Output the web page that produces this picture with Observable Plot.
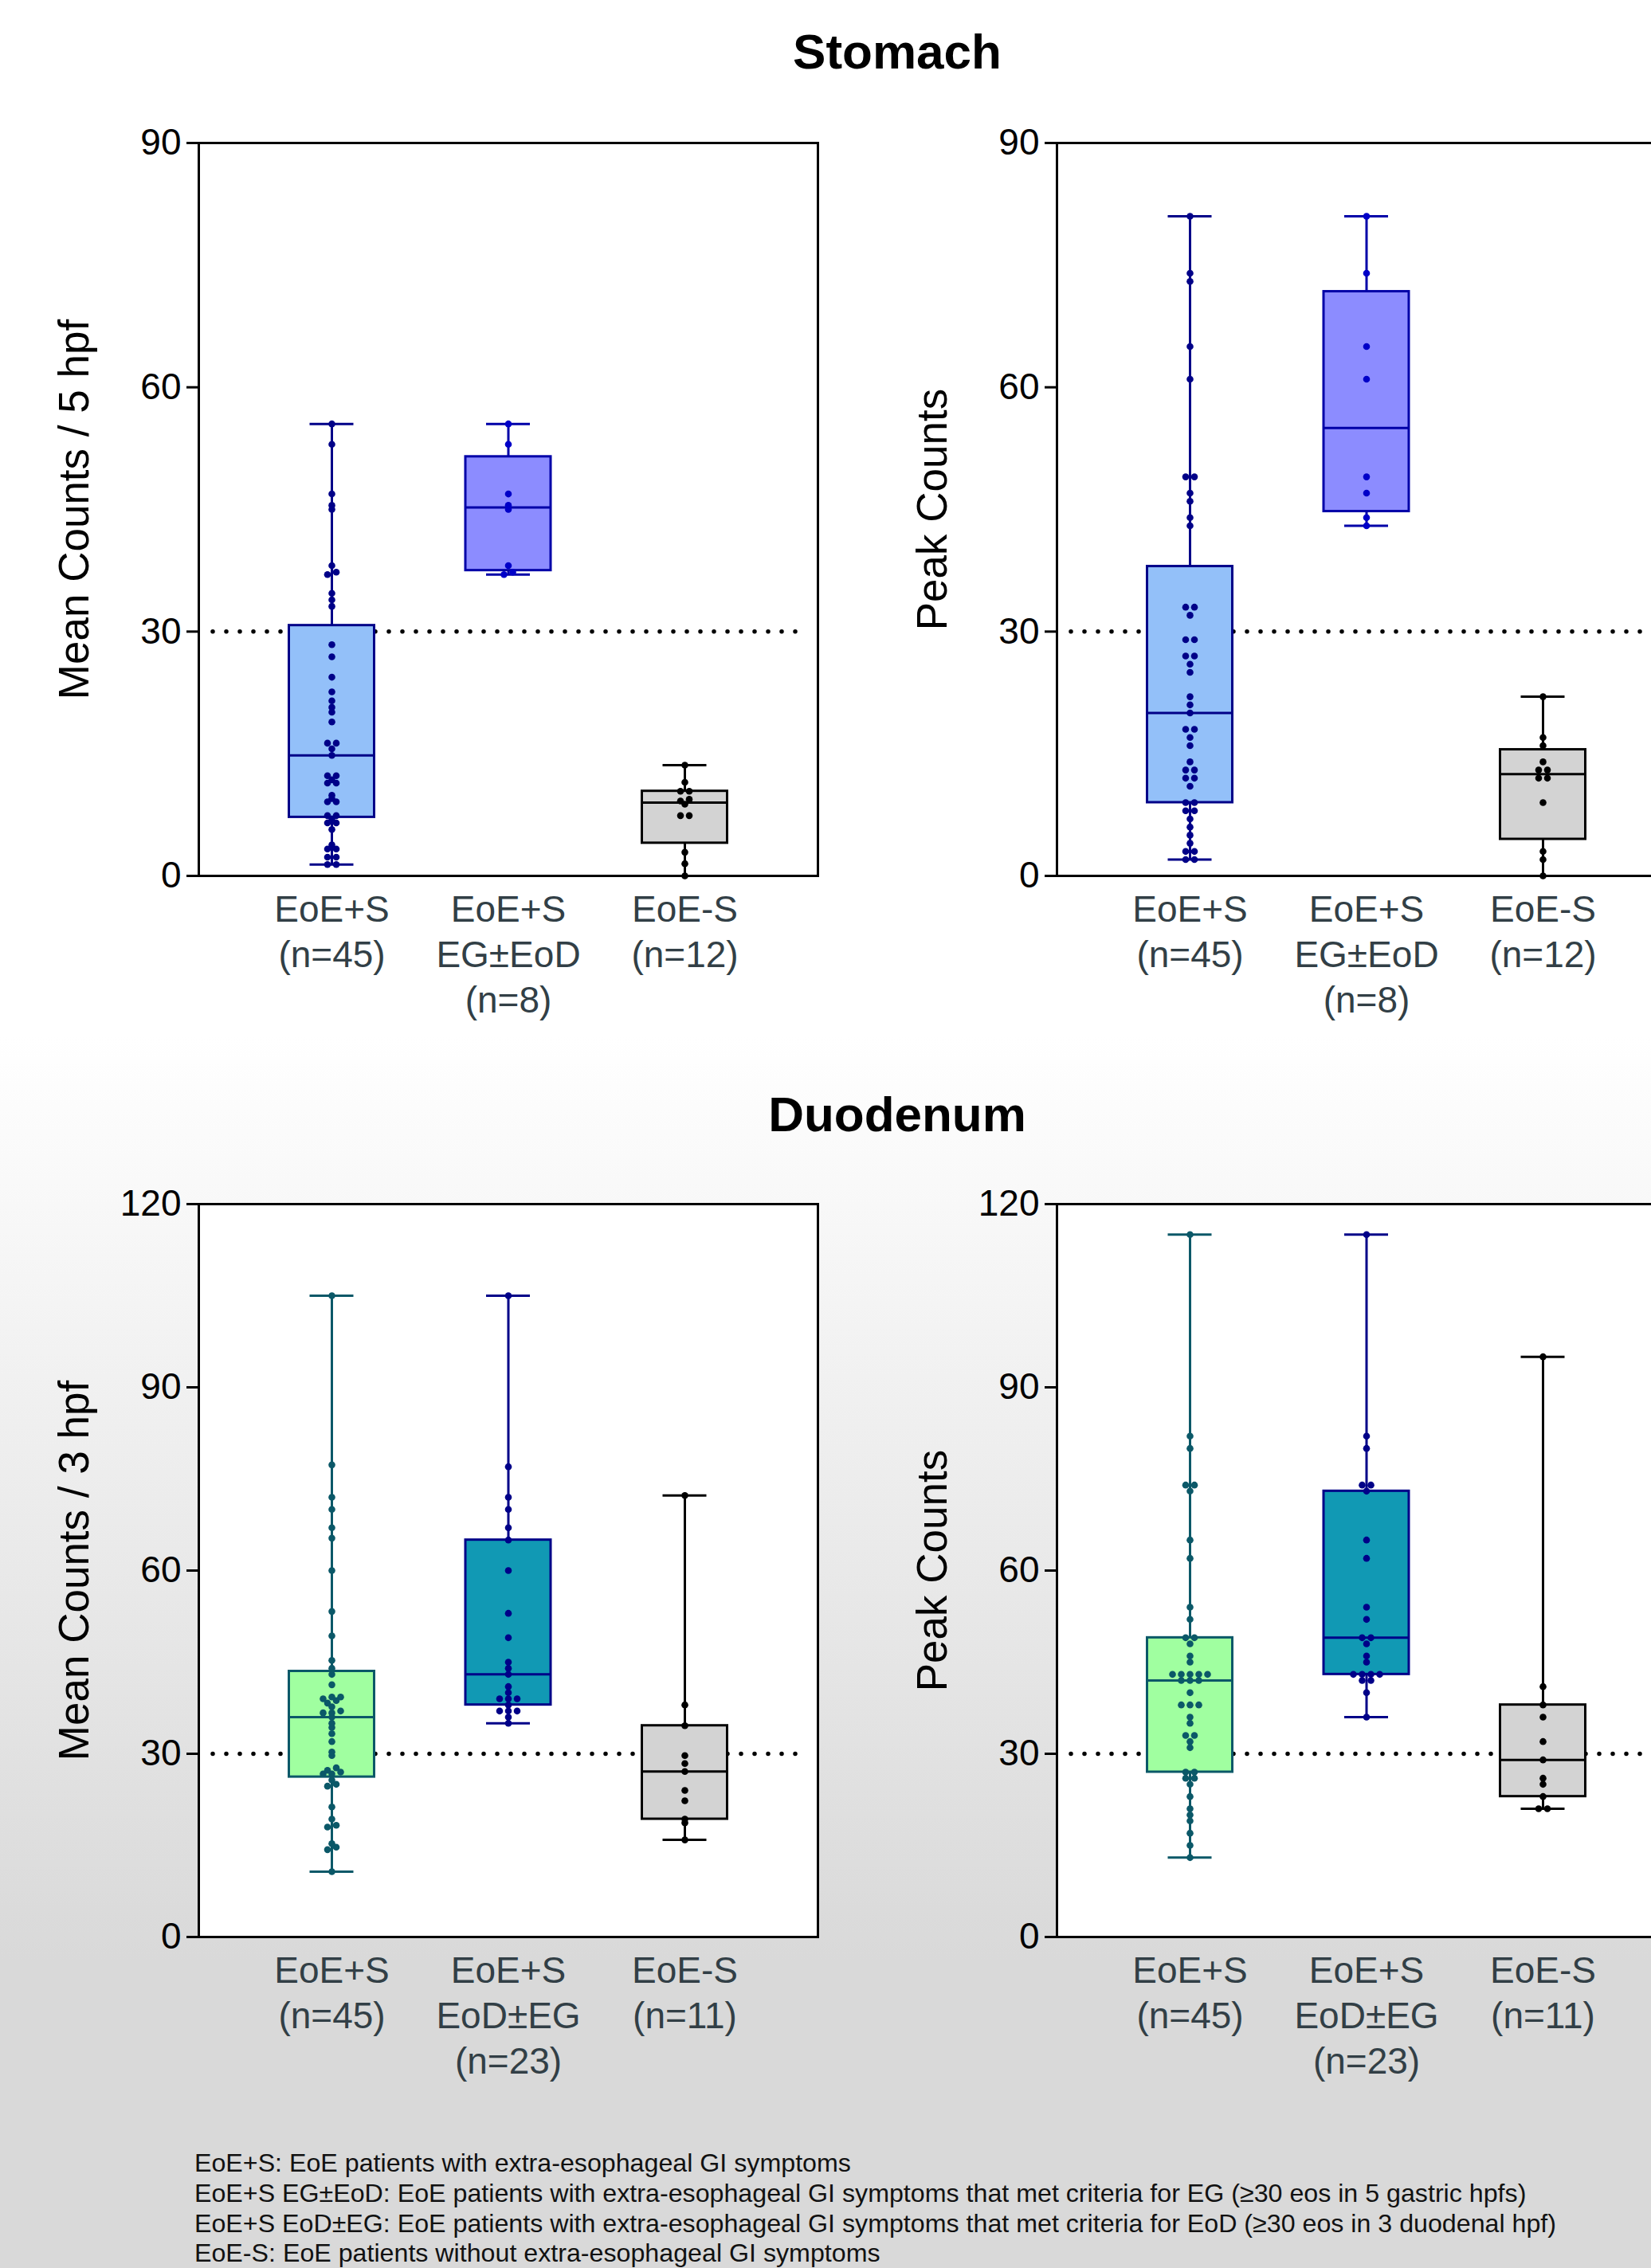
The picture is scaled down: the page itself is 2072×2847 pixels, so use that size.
<!DOCTYPE html>
<html>
<head>
<meta charset="utf-8">
<script src="https://cdn.jsdelivr.net/npm/d3@7"></script>
<script src="https://cdn.jsdelivr.net/npm/@observablehq/plot@0.6"></script>
<style>
html, body { margin: 0; padding: 0; }
body { width: 2072px; height: 2847px; overflow: hidden; }
#page {
  position: relative; width: 2072px; height: 2847px; overflow: hidden;
  background: linear-gradient(to bottom, #ffffff 0px, #ffffff 1300px, #d9d9d9 2460px, #d9d9d9 2847px);
  font-family: "Liberation Sans", Arial, sans-serif;
}
.title { position: absolute; left: 0; width: 2252px; text-align: center; font-weight: bold;
  font-size: 62px; line-height: 62px; color: #000; }
.panel { position: absolute; }
#caption { position: absolute; left: 244px; top: 2697px; font-size: 32.2px; line-height: 37.8px;
  color: #111; white-space: pre; }
</style>
</head>
<body>
<div id="page">
  <div class="title" style="top:34px">Stomach</div>
  <div class="title" style="top:1368px">Duodenum</div>
  <div class="panel" id="p1" style="left:0px;top:159px"></div>
  <div class="panel" id="p2" style="left:1077px;top:159px"></div>
  <div class="panel" id="p3" style="left:0px;top:1491px"></div>
  <div class="panel" id="p4" style="left:1077px;top:1491px"></div>
  <div id="caption"></div>
</div>
<script>
// ---------------- data ----------------
const stomachGroups = ["EoE+S", "EoE+S\nEG±EoD", "EoE-S"];
const duodenumGroups = ["EoE+S", "EoE+S\nEoD±EG", "EoE-S"];

// Stomach, mean counts / 5 hpf
const stomachMean_EoES = [55.5, 53.0, 46.9, 45.5, 45.0, 38.1, 37.3, 37.0, 34.7, 33.9, 33.1, 28.4, 26.9, 24.4,
  22.6, 21.5, 20.7, 20.1, 18.9, 16.3, 16.3, 15.6, 14.8, 12.3, 12.3, 11.8, 11.4, 11.4, 9.9, 9.5, 9.1, 9.1,
  7.4, 7.4, 7.0, 6.5, 6.5, 5.7, 3.8, 3.3, 3.3, 2.3, 2.3, 1.4, 1.4];
const stomachMean_EG = [55.5, 53.0, 46.9, 45.5, 45.0, 38.1, 37.3, 37.0];
const stomachMean_noS = [13.6, 11.5, 10.4, 10.4, 9.4, 9.2, 8.8, 7.4, 7.4, 2.9, 1.5, 0];

// Stomach, peak counts
const stomachPeak_EoES = [81, 74, 73, 65, 61, 49, 49, 47, 46, 44, 43, 33, 33, 32, 29, 29, 27, 27, 26, 25, 22,
  21, 20, 18, 18, 17, 16, 14, 13, 13, 12, 12, 11, 9, 9, 8, 8, 7, 6, 5, 4, 3, 3, 2, 2];
const stomachPeak_EG = [81, 74, 65, 61, 49, 47, 44, 43];
const stomachPeak_noS = [22, 17, 16, 14, 13, 13, 12, 12, 9, 3, 2, 0];

// Duodenum, mean counts / 3 hpf
const duoMean_EoES = [105, 77.3, 72, 70, 67, 65.3, 60, 53.3, 49.3, 45.3, 44, 43, 41.3, 39.3, 39.3, 39, 38.7,
  38.3, 37.7, 37, 36.7, 36.7, 36, 35, 34.3, 33.3, 32, 30.3, 29.7, 27.7, 27.3, 27, 26.7, 26.7, 25.7, 25, 24.7,
  21.3, 19.3, 18.3, 18, 15.3, 14.7, 14.3, 10.7];
const duoMean_EoD = [105, 77, 72, 70, 67, 65, 60, 53, 49, 45, 44, 43, 41, 40, 39, 39, 39, 38, 37, 37, 37, 36, 35];
const duoMean_noS = [72.3, 38, 34.6, 29.7, 28.4, 27.1, 24, 22.3, 19.3, 18.7, 15.9];

// Duodenum, peak counts
const duoPeak_EoES = [115, 82, 80, 74, 74, 73, 65, 62, 54, 52, 49, 49, 48, 46, 45, 43, 43, 43, 43, 43, 42, 42,
  42, 40, 38, 38, 38, 36, 35, 33, 33, 32, 31, 27, 27, 26, 26, 25, 23, 21, 20, 19, 17, 15, 13];
const duoPeak_EoD = [115, 82, 80, 74, 74, 73, 65, 62, 54, 52, 49, 49, 48, 46, 45, 43, 43, 43, 43, 42, 42, 40, 36];
const duoPeak_noS = [95, 41, 38, 36, 32, 29, 26, 25, 23, 21, 21];

const threshold = 30;
const stomachTicks = [0, 30, 60, 90];
const duodenumTicks = [0, 30, 60, 90, 120];

const captionLines = [
  "EoE+S: EoE patients with extra-esophageal GI symptoms",
  "EoE+S EG±EoD: EoE patients with extra-esophageal GI symptoms that met criteria for EG (≥30 eos in 5 gastric hpfs)",
  "EoE+S EoD±EG: EoE patients with extra-esophageal GI symptoms that met criteria for EoD (≥30 eos in 3 duodenal hpf)",
  "EoE-S: EoE patients without extra-esophageal GI symptoms"
];

// ---------------- styling ----------------
const stomachFills = ["#93c0f9", "#8c8cff", "#d3d3d3"];
const stomachStrokes = ["#000088", "#0000a8", "#000000"];
const stomachDots = ["#000088", "#0000c8", "#000000"];
const duoFills = ["#a0ffa0", "#1199b4", "#d3d3d3"];
const duoStrokes = ["#0b5868", "#000088", "#000000"];
const duoDots = ["#0b5868", "#000088", "#000000"];

const FONT = '"Liberation Sans", Arial, sans-serif';
const ML = 249, MR = 30, MT = 20, MB = 200, FW = 777, FH = 920;
const STEP = 221.5;               // px between group centres
const X0 = -167 / STEP, X1 = X0 + FW / STEP;
const BOX_HALF = 53.5 / STEP, CAP_HALF = 27.5 / STEP, DOT_STEP = 11 / STEP;

// GraphPad-style quartiles (position p*(n+1))
function quant(sorted, p) {
  const n = sorted.length, pos = p * (n + 1);
  if (pos <= 1) return sorted[0];
  if (pos >= n) return sorted[n - 1];
  const k = Math.floor(pos), f = pos - k;
  return sorted[k - 1] + f * (sorted[k] - sorted[k - 1]);
}

function panel({groups, values, fills, strokes, dotFills, yMax, yTicks, yLabel}) {
  const pxPerUnit = FH / yMax;
  const boxes = values.map((vals, i) => {
    const s = vals.slice().sort(d3.ascending);
    return {i, min: s[0], max: s[s.length - 1], q1: quant(s, 0.25), med: quant(s, 0.5), q3: quant(s, 0.75)};
  });
  const caps = boxes.flatMap(b => [{i: b.i, v: b.min}, {i: b.i, v: b.max}]);
  const dots = [];
  values.forEach((vals, i) => {
    const s = vals.slice().sort(d3.ascending);
    let row = [];
    const flush = () => {
      row.forEach((v, j) => dots.push({i, v, off: (j - (row.length - 1) / 2) * DOT_STEP}));
      row = [];
    };
    for (const v of s) {
      if (row.length && (v - row[0]) * pxPerUnit > 3.5) flush();
      row.push(v);
    }
    flush();
  });
  const labels = groups.map((g, i) => ({i, label: `${g}\n(n=${values[i].length})`}));

  return Plot.plot({
    width: ML + FW + MR, height: MT + FH + MB,
    marginLeft: ML, marginRight: MR, marginTop: MT, marginBottom: MB,
    style: {background: "transparent", fontFamily: FONT, color: "black", overflow: "visible", maxWidth: "none"},
    x: {domain: [X0, X1], axis: null},
    y: {domain: [0, yMax], axis: null},
    color: {type: "identity"},
    marks: [
      Plot.frame({fill: "white", stroke: "none"}),
      Plot.ruleY([threshold], {stroke: "black", strokeWidth: 5.5, strokeDasharray: "0,17",
        strokeLinecap: "round", insetLeft: 18, insetRight: 12}),
      Plot.ruleX(boxes, {x: "i", y1: "min", y2: "max", stroke: d => strokes[d.i], strokeWidth: 3}),
      Plot.ruleY(caps, {y: "v", x1: d => d.i - CAP_HALF, x2: d => d.i + CAP_HALF,
        stroke: d => strokes[d.i], strokeWidth: 3}),
      Plot.rectY(boxes, {x1: d => d.i - BOX_HALF, x2: d => d.i + BOX_HALF, y1: "q1", y2: "q3",
        fill: d => fills[d.i], stroke: d => strokes[d.i], strokeWidth: 3}),
      Plot.ruleY(boxes, {y: "med", x1: d => d.i - BOX_HALF, x2: d => d.i + BOX_HALF,
        stroke: d => strokes[d.i], strokeWidth: 3}),
      Plot.dot(dots, {x: d => d.i + d.off, y: "v", r: 4.3, fill: d => dotFills[d.i], stroke: "none"}),
      Plot.frame({stroke: "black", strokeWidth: 3}),
      Plot.axisY({ticks: yTicks, tickSize: 15, tickPadding: 7, fontSize: 46, strokeWidth: 3, label: null}),
      Plot.text(labels, {x: "i", text: "label", frameAnchor: "bottom", lineAnchor: "top", dy: 17,
        fontSize: 46, lineHeight: 1.24, fill: "#323f46"}),
      Plot.text([yLabel], {text: d => d, frameAnchor: "left", dx: -155, rotate: -90, fontSize: 53,
        textAnchor: "middle", lineAnchor: "middle", fill: "black"})
    ]
  });
}

document.getElementById("p1").append(panel({
  groups: stomachGroups, values: [stomachMean_EoES, stomachMean_EG, stomachMean_noS],
  fills: stomachFills, strokes: stomachStrokes, dotFills: stomachDots,
  yMax: 90, yTicks: stomachTicks, yLabel: "Mean Counts / 5 hpf"}));
document.getElementById("p2").append(panel({
  groups: stomachGroups, values: [stomachPeak_EoES, stomachPeak_EG, stomachPeak_noS],
  fills: stomachFills, strokes: stomachStrokes, dotFills: stomachDots,
  yMax: 90, yTicks: stomachTicks, yLabel: "Peak Counts"}));
document.getElementById("p3").append(panel({
  groups: duodenumGroups, values: [duoMean_EoES, duoMean_EoD, duoMean_noS],
  fills: duoFills, strokes: duoStrokes, dotFills: duoDots,
  yMax: 120, yTicks: duodenumTicks, yLabel: "Mean Counts / 3 hpf"}));
document.getElementById("p4").append(panel({
  groups: duodenumGroups, values: [duoPeak_EoES, duoPeak_EoD, duoPeak_noS],
  fills: duoFills, strokes: duoStrokes, dotFills: duoDots,
  yMax: 120, yTicks: duodenumTicks, yLabel: "Peak Counts"}));

document.getElementById("caption").textContent = captionLines.join("\n");
</script>
</body>
</html>
